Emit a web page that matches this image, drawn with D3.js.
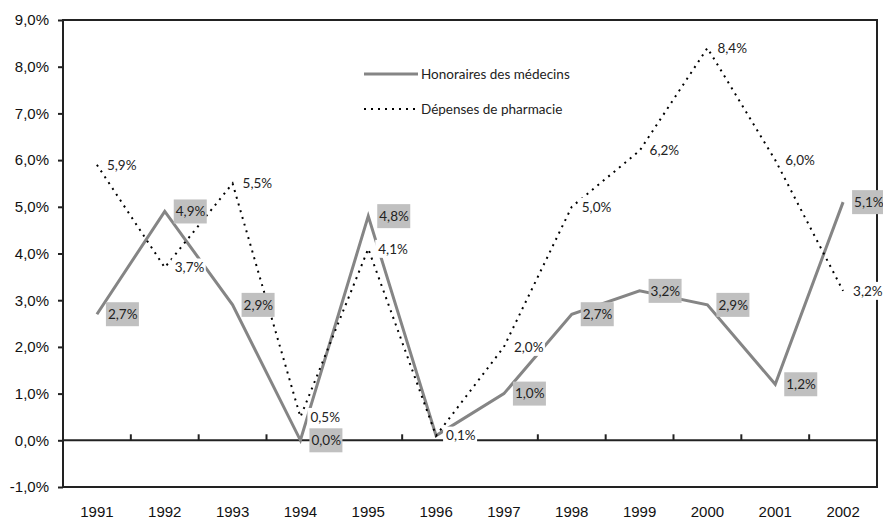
<!DOCTYPE html>
<html>
<head>
<meta charset="utf-8">
<style>
    body { margin: 0; background: #fff; }
    .axis text { font-family: "Liberation Sans", Arial, sans-serif; font-size: 15px; fill: #111; }
    .lbl { font-family: Lato, "Open Sans", sans-serif; font-size: 13.5px; fill: #222; }
    .leg { font-family: Lato, "Open Sans", sans-serif; font-size: 13.5px; fill: #222; }
</style>
</head>
<body>
<script src="https://d3js.org/d3.v7.min.js"></script>
<script>
    var years = ["1991", "1992", "1993", "1994", "1995", "1996", "1997", "1998", "1999", "2000", "2001", "2002"];
    var honoraires = [2.7, 4.9, 2.9, 0.0, 4.8, 0.1, 1.0, 2.7, 3.2, 2.9, 1.2, 5.1];
    var pharmacie = [5.9, 3.7, 5.5, 0.5, 4.1, 0.1, 2.0, 5.0, 6.2, 8.4, 6.0, 3.2];
    // which points carry a label (1996 honoraires has none visible)
    var honLabelShown = [1, 1, 1, 1, 1, 0, 1, 1, 1, 1, 1, 1];
    var yTicks = [-1, 0, 1, 2, 3, 4, 5, 6, 7, 8, 9];

    var width = 883, height = 519;
    var plotLeft = 63, plotRight = 877, plotTop = 20, plotBottom = 487;

    var svg = d3.select("body").append("svg")
        .attr("width", width)
        .attr("height", height);

    var x = d3.scaleBand().domain(years).range([plotLeft, plotRight]);
    var y = d3.scaleLinear().domain([-1, 9]).range([plotBottom, plotTop]);
    var fmt = function (v) { return v.toFixed(1).replace(".", ",") + "%"; };
    var cx = function (i) { return x(years[i]) + x.bandwidth() / 2; };

    // plot frame
    svg.append("rect")
        .attr("x", plotLeft).attr("y", plotTop)
        .attr("width", plotRight - plotLeft).attr("height", plotBottom - plotTop)
        .attr("fill", "none").attr("stroke", "#222").attr("stroke-width", 2);

    // y axis
    var yAxis = svg.append("g").attr("class", "axis")
        .attr("transform", "translate(" + plotLeft + ",0)")
        .call(d3.axisLeft(y).tickValues(yTicks).tickSize(5).tickPadding(9)
            .tickFormat(fmt));
    yAxis.select(".domain").remove();
    yAxis.selectAll("line").attr("stroke", "#222").attr("stroke-width", 2);

    // zero line with category ticks pointing up
    svg.append("line")
        .attr("x1", plotLeft).attr("x2", plotRight)
        .attr("y1", y(0)).attr("y2", y(0))
        .attr("stroke", "#222").attr("stroke-width", 2);
    svg.append("g").selectAll("line")
        .data(years.slice(1))
        .enter().append("line")
        .attr("x1", function (d) { return x(d); })
        .attr("x2", function (d) { return x(d); })
        .attr("y1", y(0) - 6).attr("y2", y(0))
        .attr("stroke", "#222").attr("stroke-width", 2);

    // x labels at the bottom
    var xAxis = svg.append("g").attr("class", "axis")
        .attr("transform", "translate(0," + plotBottom + ")")
        .call(d3.axisBottom(x).tickSize(0).tickPadding(19));
    xAxis.select(".domain").remove();

    var line = d3.line()
        .x(function (d, i) { return cx(i); })
        .y(function (d) { return y(d); });

    svg.append("path").datum(honoraires)
        .attr("d", line)
        .attr("fill", "none").attr("stroke", "#858585").attr("stroke-width", 3);

    svg.append("path").datum(pharmacie)
        .attr("d", line)
        .attr("fill", "none").attr("stroke", "#000").attr("stroke-width", 2)
        .attr("stroke-dasharray", "2,5");

    // pharmacie labels (white background)
    var pl = svg.append("g").selectAll("g")
        .data(pharmacie)
        .enter().append("g")
        .attr("transform", function (d, i) { return "translate(" + (cx(i) + 8) + "," + y(d) + ")"; });
    pl.append("rect")
        .attr("x", -1).attr("y", -9).attr("width", 34).attr("height", 18)
        .attr("fill", "#fff");
    pl.append("text").attr("class", "lbl")
        .attr("x", 2).attr("dy", "0.35em")
        .text(fmt);

    // honoraires labels (grey box)
    var hl = svg.append("g").selectAll("g")
        .data(honoraires.map(function (v, i) { return { v: v, i: i }; })
            .filter(function (d) { return honLabelShown[d.i]; }))
        .enter().append("g")
        .attr("transform", function (d) { return "translate(" + (cx(d.i) + 9) + "," + y(d.v) + ")"; });
    hl.append("rect")
        .attr("x", 0).attr("y", -12).attr("width", 33).attr("height", 24)
        .attr("fill", "#c0c0c0");
    hl.append("text").attr("class", "lbl")
        .attr("x", 2).attr("dy", "0.35em")
        .text(function (d) { return fmt(d.v); });

    // legend
    var leg = svg.append("g");
    leg.append("line")
        .attr("x1", 364).attr("x2", 418).attr("y1", 74).attr("y2", 74)
        .attr("stroke", "#858585").attr("stroke-width", 3);
    leg.append("text").attr("class", "leg")
        .attr("x", 421).attr("y", 74).attr("dy", "0.35em")
        .text("Honoraires des médecins");
    leg.append("line")
        .attr("x1", 364).attr("x2", 418).attr("y1", 109).attr("y2", 109)
        .attr("stroke", "#000").attr("stroke-width", 2)
        .attr("stroke-dasharray", "2,5");
    leg.append("text").attr("class", "leg")
        .attr("x", 421).attr("y", 109).attr("dy", "0.35em")
        .text("Dépenses de pharmacie");
</script>
</body>
</html>
